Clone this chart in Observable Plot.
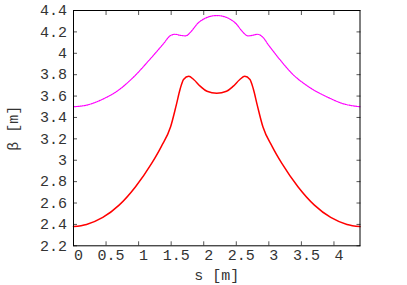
<!DOCTYPE html>
<html><head><meta charset="utf-8">
<script src="https://cdn.jsdelivr.net/npm/d3@7"></script>
<script src="https://cdn.jsdelivr.net/npm/@observablehq/plot@0.6"></script>
<style>body{margin:0;background:#fff;}</style>
</head><body><div id="chart"></div>
<script>
const sRed = [0, 0.2, 0.45, 0.7, 0.95, 1.2, 1.35, 1.49, 1.58, 1.64, 1.69, 1.77, 1.845, 1.95, 2.05, 2.2, 2.35, 2.45, 2.555, 2.63, 2.71, 2.76, 2.82, 2.91, 3.05, 3.2, 3.45, 3.7, 3.95, 4.2, 4.4];
const betaRed = [2.38, 2.40, 2.465, 2.58, 2.75, 2.97, 3.13, 3.31, 3.52, 3.67, 3.755, 3.785, 3.755, 3.69, 3.645, 3.627, 3.645, 3.69, 3.755, 3.785, 3.755, 3.67, 3.52, 3.31, 3.13, 2.97, 2.75, 2.58, 2.465, 2.40, 2.38];
const sMag = [0, 0.2, 0.46, 0.67, 0.92, 1.18, 1.38, 1.49, 1.56, 1.64, 1.72, 1.82, 1.9, 2.0, 2.1, 2.2, 2.3, 2.4, 2.5, 2.58, 2.68, 2.75, 2.82, 2.9, 3.0, 3.16, 3.36, 3.62, 3.9, 4.15, 4.4];
const betaMag = [3.50, 3.515, 3.574, 3.646, 3.776, 3.948, 4.088, 4.166, 4.178, 4.168, 4.163, 4.213, 4.275, 4.32, 4.345, 4.353, 4.345, 4.32, 4.275, 4.213, 4.163, 4.168, 4.178, 4.155, 4.073, 3.948, 3.808, 3.683, 3.59, 3.527, 3.50];
const xTicks = [0, 0.5, 1, 1.5, 2, 2.5, 3, 3.5, 4];
const yTicks = [2.2, 2.4, 2.6, 2.8, 3, 3.2, 3.4, 3.6, 3.8, 4, 4.2, 4.4];
const xTitle = "s [m]";
const yTitle = "β [m]";

const fmt = d => String(+d.toFixed(1));
const red = sRed.map((s, i) => ({s, b: betaRed[i]}));
const mag = sMag.map((s, i) => ({s, b: betaMag[i]}));
const font = "'Liberation Mono', 'Courier New', monospace";
const blank = () => "";

const plot = Plot.plot({
  width: 407, height: 285,
  marginLeft: 73, marginRight: 47.5, marginTop: 10, marginBottom: 39.7,
  style: {fontFamily: font, fontSize: "15px", background: "#fff", color: "#333"},
  x: {domain: [0, 4.4]},
  y: {domain: [2.2, 4.4]},
  marks: [
    Plot.axisX(xTicks, {anchor: "bottom", tickSize: 0, tickPadding: 4, dx: 5, tickFormat: fmt, label: null}),
    Plot.axisY(yTicks, {anchor: "left", tickSize: 0, tickPadding: 6.5, tickFormat: fmt, label: null}),
    Plot.axisX(xTicks, {anchor: "bottom", tickSize: -4, tickFormat: blank, label: null, stroke: "#555"}),
    Plot.axisX(xTicks, {anchor: "top", tickSize: -4, tickFormat: blank, label: null, stroke: "#555"}),
    Plot.axisY(yTicks, {anchor: "left", tickSize: -4, tickFormat: blank, label: null, stroke: "#555"}),
    Plot.axisY(yTicks, {anchor: "right", tickSize: -4, tickFormat: blank, label: null, stroke: "#555"}),
    Plot.line(mag, {x: "s", y: "b", stroke: "#ff00ff", strokeWidth: 1.2, strokeDasharray: "1.2,1", curve: "monotone-x"}),
    Plot.line(red, {x: "s", y: "b", stroke: "#ff0000", strokeWidth: 1.5, curve: "monotone-x"}),
    Plot.frame({stroke: "#000"}),
    Plot.text([yTitle], {frameAnchor: "left", dx: -60, rotate: -90, lineAnchor: "middle", textAnchor: "middle", fill: "#333"}),
    Plot.text([xTitle], {frameAnchor: "bottom", dy: 29.5, lineAnchor: "middle", textAnchor: "middle", fill: "#333"})
  ]
});
document.getElementById("chart").appendChild(plot);
</script>
</body></html>
